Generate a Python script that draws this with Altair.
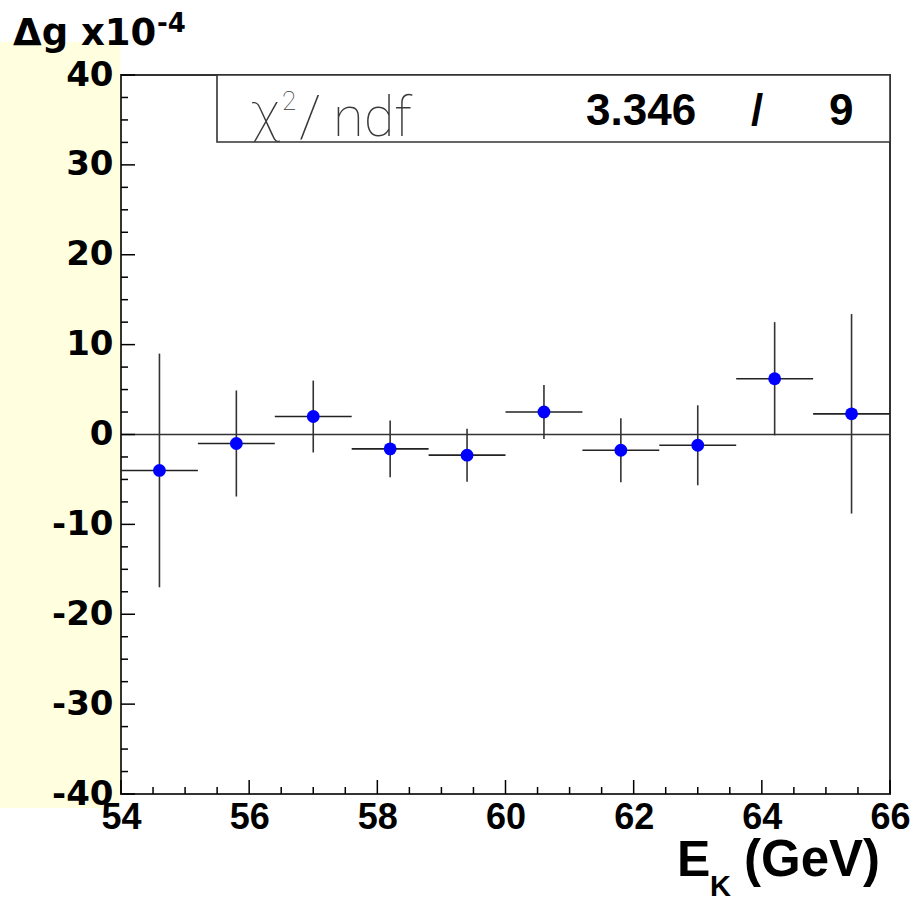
import altair as alt
import pandas as pd

# ---- data ----
energy = [54.6, 55.8, 57.0, 58.2, 59.4, 60.6, 61.8, 63.0, 64.2, 65.4]
dg = [-4.0, -1.0, 2.0, -1.6, -2.3, 2.5, -1.75, -1.2, 6.2, 2.3]
dg_err = [13.0, 5.9, 4.0, 3.15, 2.95, 3.0, 3.55, 4.45, 6.3, 11.1]
half_bin = [0.6, 0.6, 0.6, 0.6, 0.6, 0.6, 0.6, 0.6, 0.6, 0.6]
fit_value = [0.0]

x_major = [54, 56, 58, 60, 62, 64, 66]
x_minor = [54.5, 55, 55.5, 56.5, 57, 57.5, 58.5, 59, 59.5, 60.5, 61, 61.5,
           62.5, 63, 63.5, 64.5, 65, 65.5]
y_major = [-40, -30, -20, -10, 0, 10, 20, 30, 40]
y_minor = [-37.5, -35, -32.5, -27.5, -25, -22.5, -17.5, -15, -12.5, -7.5, -5, -2.5,
           2.5, 5, 7.5, 12.5, 15, 17.5, 22.5, 25, 27.5, 32.5, 35, 37.5]

y_title_main = "Δg x10"
y_title_sup = "-4"
x_title_main = "E"
x_title_sub = "K"
x_title_rest = "(GeV)"
stat_chi = "χ"
stat_sup = "2"
stat_slash = "/"
stat_ndf_label = "ndf"
stat_chi2 = "3.346"
stat_sep = "/"
stat_ndf = "9"

W, H = 769, 719

df = pd.DataFrame({"e": energy, "dg": dg, "err": dg_err, "hb": half_bin})
df["elo"] = df["e"] - df["hb"]
df["ehi"] = df["e"] + df["hb"]
df["lo"] = df["dg"] - df["err"]
df["hi"] = df["dg"] + df["err"]

xs = alt.Scale(domain=[54, 66], nice=False, zero=False)
ys = alt.Scale(domain=[-40, 40], nice=False, zero=False)

LBL = "datum.value < 0 ? '-' + abs(datum.value) : '' + datum.value"

xax = alt.Axis(values=x_major, title="", tickSize=0, domain=False, grid=False,
               labelFont="Liberation Sans", labelFontWeight="bold", labelFontSize=36,
               labelColor="black", labelPadding=6, labelFlush=False, labelOverlap=False,
               labelExpr=LBL, zindex=1)
yax = alt.Axis(values=y_major, title="", tickSize=0, domain=False, grid=False,
               labelFont="DejaVu Sans", labelFontWeight="bold", labelFontSize=34,
               labelColor="black", labelPadding=8, labelFlush=False, labelOverlap=False,
               labelBaseline="middle", labelExpr=LBL, zindex=1)

one = pd.DataFrame({"a": [0]})
LINE = "#333333"

yellow = alt.Chart(one).mark_rect(color="#ffffe0").encode(
    x=alt.value(-121), x2=alt.value(-1), y=alt.value(-33), y2=alt.value(733))

zero_line = alt.Chart(pd.DataFrame({"f": fit_value})).mark_rule(
    color=LINE, strokeWidth=1.6).encode(
    y=alt.Y("f:Q", scale=ys, axis=yax))

xerr = alt.Chart(df).mark_rule(color="#222222", strokeWidth=1.6).encode(
    x=alt.X("elo:Q", scale=xs, axis=xax), x2="ehi:Q",
    y=alt.Y("dg:Q", scale=ys, axis=yax))

yerr = alt.Chart(df).mark_rule(color=LINE, strokeWidth=1.6).encode(
    x=alt.X("e:Q", scale=xs, axis=xax),
    y=alt.Y("lo:Q", scale=ys, axis=yax), y2="hi:Q")

pts = alt.Chart(df).mark_circle(color="#0000ff", opacity=1, size=165).encode(
    x=alt.X("e:Q", scale=xs, axis=xax),
    y=alt.Y("dg:Q", scale=ys, axis=yax))

xmaj = alt.Chart(pd.DataFrame({"v": x_major})).mark_rule(color="black", strokeWidth=1.5).encode(
    x=alt.X("v:Q", scale=xs, axis=xax), y=alt.value(H), y2=alt.value(H - 14))
xmin = alt.Chart(pd.DataFrame({"v": x_minor})).mark_rule(color="black", strokeWidth=1.5).encode(
    x=alt.X("v:Q", scale=xs, axis=xax), y=alt.value(H), y2=alt.value(H - 7))
ymaj = alt.Chart(pd.DataFrame({"v": y_major})).mark_rule(color="black", strokeWidth=1.5).encode(
    y=alt.Y("v:Q", scale=ys, axis=yax), x=alt.value(0), x2=alt.value(14))
ymin = alt.Chart(pd.DataFrame({"v": y_minor})).mark_rule(color="black", strokeWidth=1.5).encode(
    y=alt.Y("v:Q", scale=ys, axis=yax), x=alt.value(0), x2=alt.value(7))

statbox = alt.Chart(one).mark_rect(fill="white", stroke=LINE, strokeWidth=1.6).encode(
    x=alt.value(96), x2=alt.value(W), y=alt.value(0), y2=alt.value(67))


def txt(s, x, y, size, font, weight="normal", color="black", align="left"):
    return alt.Chart(pd.DataFrame({"t": [s]})).mark_text(
        font=font, fontSize=size, fontWeight=weight, color=color,
        align=align, baseline="alphabetic").encode(
        text="t:N", x=alt.value(x), y=alt.value(y))


THIN = "Roboto"
GREY = "#3a3a3a"
texts = [
    txt(y_title_main, -108, -30, 37, "DejaVu Sans", "bold"),
    txt(y_title_sup, 36, -43, 26, "DejaVu Sans", "bold"),
    txt(x_title_main, 556, 801, 50, "Liberation Sans", "bold"),
    txt(x_title_sub, 589, 821, 29, "Liberation Sans", "bold"),
    txt(x_title_rest, 623, 801, 51, "Liberation Sans", "bold"),
    txt(stat_chi, 130, 56, 56, THIN, 100, GREY),
    txt(stat_sup, 161, 35, 26, THIN, 100, GREY),
    txt(stat_slash, 178, 61, 58, THIN, 100, GREY),
    txt(stat_ndf_label, 212, 61, 56, THIN, 100, GREY),
    txt(stat_chi2, 465, 50, 44, "Liberation Sans", "bold"),
    txt(stat_sep, 636, 50, 44, "Liberation Sans", "bold", align="center"),
    txt(stat_ndf, 708, 50, 44, "Liberation Sans", "bold"),
]

chart = alt.layer(
    yellow, zero_line, xerr, yerr, pts, xmaj, xmin, ymaj, ymin, statbox, *texts
).properties(
    width=W, height=H,
    autosize=alt.AutoSizeParams(type="none"),
    padding={"left": 121, "top": 75, "right": 23, "bottom": 105},
    background="white",
).configure_view(
    stroke=LINE, strokeWidth=2
)

chart.save("out.html", embed_options={"renderer": "svg", "actions": False})
